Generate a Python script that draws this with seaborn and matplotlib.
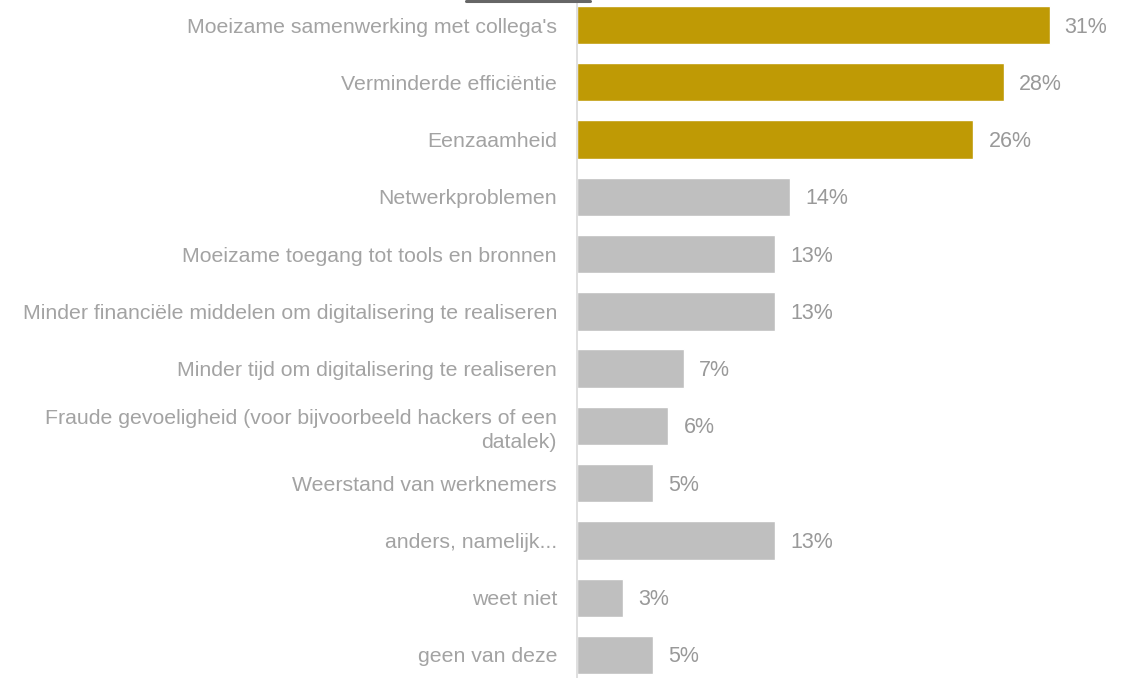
import matplotlib
matplotlib.use("Agg")
import matplotlib.pyplot as plt
import pandas as pd
import seaborn as sns
from matplotlib.lines import Line2D

categories = [
    "Moeizame samenwerking met collega's",
    "Verminderde efficiëntie",
    "Eenzaamheid",
    "Netwerkproblemen",
    "Moeizame toegang tot tools en bronnen",
    "Minder financiële middelen om digitalisering te realiseren",
    "Minder tijd om digitalisering te realiseren",
    "Fraude gevoeligheid (voor bijvoorbeeld hackers of een\ndatalek)",
    "Weerstand van werknemers",
    "anders, namelijk...",
    "weet niet",
    "geen van deze",
]
values = [31, 28, 26, 14, 13, 13, 7, 6, 5, 13, 3, 5]
highlight = [True, True, True] + [False] * 9

GOLD = "#BF9A05"
GREY = "#BFBFBF"
TXT = "#A3A3A3"

sns.set_style("white")
plt.rcParams["font.family"] = ["Liberation Sans", "DejaVu Sans"]

df = pd.DataFrame({"cat": categories, "val": values})
palette = {c: (GOLD if h else GREY) for c, h in zip(categories, highlight)}

fig = plt.figure(figsize=(11.35, 6.78), dpi=100)
ax = fig.add_axes([577 / 1135, -0.0083, 1 - 577 / 1135 - 0.008, 1.0136])

sns.barplot(data=df, x="val", y="cat", hue="cat", palette=palette,
            order=categories, hue_order=categories, legend=False,
            width=0.67, saturation=1, ax=ax)

ax.set_xlim(0, 36)
ax.set_ylim(11.5, -0.5)
ax.set_xlabel("")
ax.set_ylabel("")
ax.set_xticks([])
for s in ["top", "right", "bottom"]:
    ax.spines[s].set_visible(False)
ax.spines["left"].set_color("#D9D9D9")
ax.spines["left"].set_linewidth(1.2)
ax.tick_params(axis="y", length=0, pad=14.4, labelsize=15.3, labelcolor=TXT)
for lab in ax.get_yticklabels():
    lab.set_horizontalalignment("right")
    lab.set_linespacing(1.35)

for i, v in enumerate(values):
    ax.annotate(f"{v}%", xy=(v, i), xytext=(15, -2), textcoords="offset pixels",
                va="center", ha="left", fontsize=15.5, color="#999999")

fig.add_artist(Line2D([466 / 1135, 590 / 1135], [1 - 1 / 678, 1 - 1 / 678],
                      color="#666666", linewidth=2.2, transform=fig.transFigure))

fig.savefig("out.png", dpi=100)
